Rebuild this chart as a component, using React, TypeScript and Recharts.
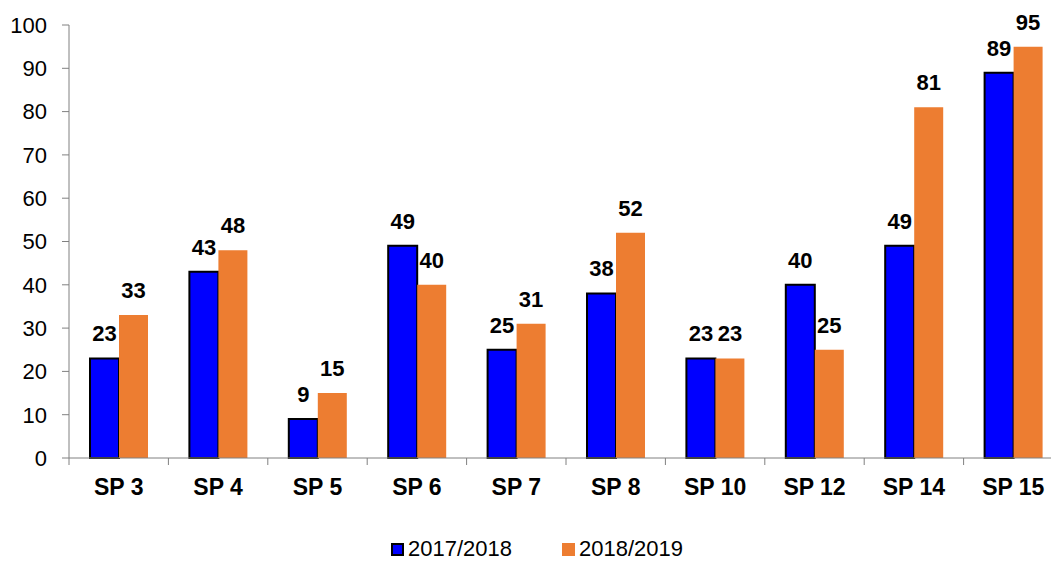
import { BarChart, Bar, XAxis, YAxis, Legend, LabelList } from "recharts";

const categories = ["SP 3", "SP 4", "SP 5", "SP 6", "SP 7", "SP 8", "SP 10", "SP 12", "SP 14", "SP 15"];
const values2017 = [23, 43, 9, 49, 25, 38, 23, 40, 49, 89];
const values2018 = [33, 48, 15, 40, 31, 52, 23, 25, 81, 95];
const yTicks = [0, 10, 20, 30, 40, 50, 60, 70, 80, 90, 100];

const series = [
  { key: "s2017", name: "2017/2018", color: "#0000FF", border: "#000000" },
  { key: "s2018", name: "2018/2019", color: "#ED7D31", border: "none" },
];

const data = categories.map((name, i) => ({
  name,
  s2017: values2017[i],
  s2018: values2018[i],
}));

const FONT = '"Liberation Sans", Arial, sans-serif';
const AXIS = "#808080";

// category label plus a tick at the left edge of each band
const CategoryTick = (props: any) => {
  const { x, y, payload } = props;
  const half = payload?.offset ?? 0;
  return (
    <g>
      <line x1={x - half} x2={x - half} y1={y} y2={y + 7} stroke={AXIS} strokeWidth={1} />
      <text x={x} y={y + 37} textAnchor="middle" fontWeight="bold" fontSize={23} fill="#000" fontFamily={FONT}>
        {payload.value}
      </text>
    </g>
  );
};

const renderLegend = () => (
  <div
    style={{
      display: "flex",
      justifyContent: "center",
      alignItems: "baseline",
      height: 46,
      boxSizing: "border-box",
      paddingTop: 20,
      paddingLeft: 4,
      fontSize: 22,
      lineHeight: "25px",
      fontFamily: FONT,
      color: "#000",
    }}
  >
    {series.map((s, i) => (
      <div key={s.key} style={{ display: "flex", alignItems: "baseline", marginLeft: i === 0 ? 0 : 50 }}>
        <span
          style={{
            display: "inline-block",
            width: 13,
            height: 13,
            boxSizing: "border-box",
            background: s.color,
            border: s.border === "none" ? "none" : `2px solid ${s.border}`,
            marginRight: 4,
          }}
        />
        <span>{s.name}</span>
      </div>
    ))}
  </div>
);

export default function App() {
  return (
    <div
      style={{
        position: "absolute",
        left: 0,
        top: 0,
        width: 1051,
        height: 562,
        overflow: "hidden",
        background: "#fff",
        fontFamily: FONT,
      }}
    >
      <BarChart
        width={1070}
        height={562}
        data={data}
        margin={{ top: 25, right: 7, left: 0, bottom: 0 }}
        barCategoryGap={21}
        barGap={0}
      >
        <XAxis
          dataKey="name"
          height={58}
          axisLine={{ stroke: AXIS }}
          tickLine={false}
          tickSize={0}
          tickMargin={0}
          tick={<CategoryTick />}
          interval={0}
        />
        <YAxis
          width={69}
          domain={[0, 100]}
          ticks={yTicks}
          interval={0}
          axisLine={{ stroke: AXIS }}
          tickLine={{ stroke: AXIS }}
          tickSize={7}
          tickMargin={15}
          tick={{ fill: "#000", fontSize: 22, fontFamily: FONT }}
        />
        <Legend
          verticalAlign="bottom"
          content={renderLegend}
          wrapperStyle={{ left: 0, width: 1070 }}
        />
        <Bar dataKey="s2017" name="2017/2018" fill="#0000FF" stroke="#000" strokeWidth={2} isAnimationActive={false}>
          <LabelList dataKey="s2017" position="top" offset={17} fill="#000" fontSize={22} fontWeight="bold" fontFamily={FONT} />
        </Bar>
        <Bar dataKey="s2018" name="2018/2019" fill="#ED7D31" isAnimationActive={false}>
          <LabelList dataKey="s2018" position="top" offset={17} fill="#000" fontSize={22} fontWeight="bold" fontFamily={FONT} />
        </Bar>
      </BarChart>
    </div>
  );
}
